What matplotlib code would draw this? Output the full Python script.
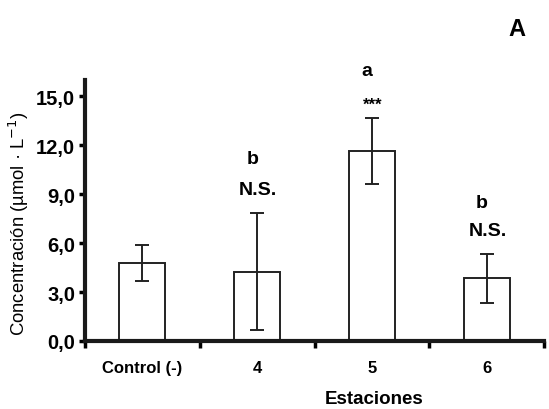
import matplotlib
matplotlib.use("Agg")
import matplotlib.pyplot as plt
import numpy as np

plt.rcParams['font.family'] = ['Liberation Sans', 'DejaVu Sans']

categories = ["Control (-)", "4", "5", "6"]
means = [4.8, 4.25, 11.65, 3.85]
errors = [1.1, 3.6, 2.0, 1.5]
letters = ["", "b", "a", "b"]
signif = ["", "N.S.", "***", "N.S."]
yticks = [0, 3, 6, 9, 12, 15]
ytick_labels = ["0,0", "3,0", "6,0", "9,0", "12,0", "15,0"]

fig = plt.figure(figsize=(5.49, 4.10), dpi=100)
ax = fig.add_axes([85/549, 1-342/410, (544-85)/549, (342-81)/410])

x = np.arange(len(categories))
ax.bar(x, means, width=0.4, color='white', edgecolor='#222222', linewidth=1.4, zorder=2)
ax.errorbar(x, means, yerr=errors, fmt='none', ecolor='#222222', elinewidth=1.4,
            capsize=5, capthick=1.4, zorder=3)

ax.set_xlim(-0.5, 3.5)
ax.set_ylim(0, 16)
ax.set_yticks(yticks)
ax.set_yticklabels(ytick_labels, fontsize=14.5, fontweight='bold')
ax.set_xticks(x)
ax.set_xticklabels(categories, fontsize=12, fontweight='bold')
ax.tick_params(axis='x', which='major', length=0, pad=14)
ax.set_xticks(np.arange(-0.5, 4.0, 1.0), minor=True)
ax.tick_params(axis='x', which='minor', length=5, width=2.5, direction='out')
ax.tick_params(axis='y', which='major', length=4, width=2.5, direction='out', pad=3)

for s in ['top', 'right']:
    ax.spines[s].set_visible(False)
for s in ['left', 'bottom']:
    ax.spines[s].set_linewidth(3)
    ax.spines[s].set_color('#1a1a1a')

ax.set_ylabel("Concentración (µmol · L$^{-1}$)", fontsize=13.3)
ax.yaxis.set_label_coords(-0.118, 0.455)

ax.text((374-85)/(544-85), (342-400)/(342-81), "Estaciones", transform=ax.transAxes,
        ha='center', va='center', fontsize=13.5, fontweight='bold')

# annotations
ann_letter_y = [None, 11.2, 16.6, 8.5]
ann_sig_y = [None, 9.3, 14.5, 6.75]
for i in range(len(categories)):
    if letters[i]:
        ax.text(x[i] - 0.04, ann_letter_y[i], letters[i], ha='center', va='center',
                fontsize=14, fontweight='bold', clip_on=False)
    if signif[i]:
        fs = 12 if signif[i] == "***" else 14
        ax.text(x[i] + 0.01, ann_sig_y[i], signif[i], ha='center', va='center',
                fontsize=fs, fontweight='bold', clip_on=False)

fig.text(517/549, 1-30/410, "A", ha='center', va='center', fontsize=17, fontweight='bold')

fig.savefig("out.png", dpi=100)
